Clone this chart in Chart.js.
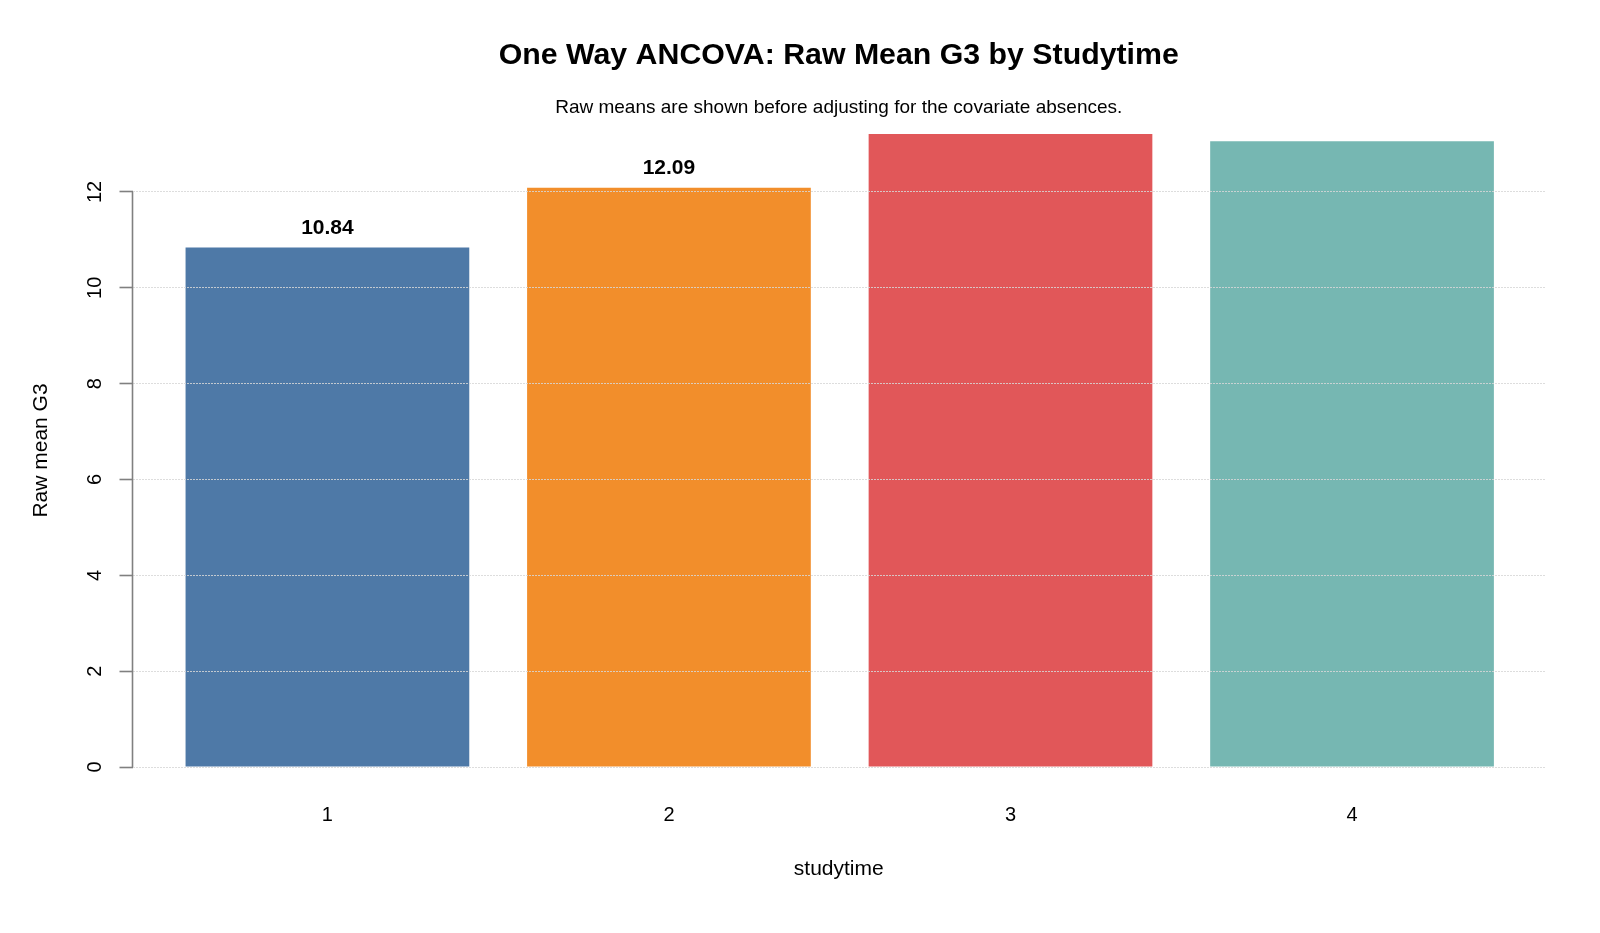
<!DOCTYPE html>
<html>
<head>
<meta charset="utf-8">
<script src="https://cdn.jsdelivr.net/npm/chart.js@4/dist/chart.umd.min.js"></script>
<style>
  html, body { margin: 0; padding: 0; background: #fff; }
  canvas { display: block; }
</style>
</head>
<body>
<canvas id="chart" width="1600" height="933"></canvas>
<script>
var studytime = [1, 2, 3, 4];
var rawMeanG3 = [10.84, 12.09, 13.21, 13.06];
var yTicks = [0, 2, 4, 6, 8, 10, 12];
var barColors = ['#4E79A7', '#F28E2B', '#E15759', '#76B7B2'];
var yMax = 13.21;
var xMin = 0.4293, xMax = 4.565;

var FONT = '"Liberation Sans", Arial, Helvetica, sans-serif';

// title + subtitle centred over the plot region
var titlePlugin = {
  id: 'rTitle',
  afterDraw: function(chart) {
    var ctx = chart.ctx;
    var cx = (chart.chartArea.left + chart.chartArea.right) / 2;
    ctx.save();
    ctx.fillStyle = '#000';
    ctx.textAlign = 'center';
    ctx.textBaseline = 'middle';
    ctx.font = 'bold 30.3px ' + FONT;
    ctx.fillText('One Way ANCOVA: Raw Mean G3 by Studytime', cx, 56);
    ctx.font = '19px ' + FONT;
    ctx.fillText('Raw means are shown before adjusting for the covariate absences.', cx, 108);
    ctx.restore();
  }
};

// value labels above bars, clipped to the plot region like in R
var barLabels = {
  id: 'barLabels',
  afterDatasetsDraw: function(chart) {
    var ctx = chart.ctx;
    var area = chart.chartArea;
    var meta = chart.getDatasetMeta(0);
    ctx.save();
    ctx.beginPath();
    ctx.rect(area.left, area.top, area.right - area.left, area.bottom - area.top);
    ctx.clip();
    ctx.fillStyle = '#000';
    ctx.textAlign = 'center';
    ctx.textBaseline = 'middle';
    ctx.font = 'bold 21px ' + FONT;
    meta.data.forEach(function(bar, i) {
      ctx.fillText(rawMeanG3[i].toFixed(2), bar.x, bar.y - 19.5);
    });
    ctx.restore();
  }
};

// y axis line (0..12 only) and rotated tick labels
var yAxisDecor = {
  id: 'yAxisDecor',
  afterDraw: function(chart) {
    var ctx = chart.ctx;
    var y = chart.scales.y;
    var x0 = chart.chartArea.left;
    ctx.save();
    ctx.strokeStyle = '#808080';
    ctx.lineWidth = 1.6;
    ctx.beginPath();
    ctx.moveTo(x0, y.getPixelForValue(yTicks[0]));
    ctx.lineTo(x0, y.getPixelForValue(yTicks[yTicks.length - 1]));
    ctx.stroke();
    ctx.fillStyle = '#000';
    ctx.font = '20px ' + FONT;
    ctx.textAlign = 'center';
    ctx.textBaseline = 'middle';
    yTicks.forEach(function(v) {
      ctx.save();
      ctx.translate(95, y.getPixelForValue(v));
      ctx.rotate(-Math.PI / 2);
      ctx.fillText(String(v), 0, 0);
      ctx.restore();
    });
    ctx.restore();
  }
};

new Chart(document.getElementById('chart'), {
  type: 'bar',
  data: {
    datasets: [{
      data: studytime.map(function(s, i) { return {x: s, y: rawMeanG3[i]}; }),
      backgroundColor: barColors,
      borderWidth: 0,
      categoryPercentage: 1,
      barPercentage: 0.8307
    }]
  },
  options: {
    responsive: false,
    animation: false,
    devicePixelRatio: 1,
    layout: { padding: { top: 134, right: 55, bottom: 0, left: 0 } },
    plugins: {
      legend: { display: false },
      title: { display: false },
      tooltip: { enabled: false }
    },
    scales: {
      x: {
        type: 'linear',
        min: xMin,
        max: xMax,
        offset: false,
        afterFit: function(scale) { scale.height = 166; },
        afterBuildTicks: function(scale) {
          scale.ticks = studytime.map(function(v) { return {value: v}; });
        },
        grid: { display: false, drawTicks: false, offset: false },
        border: { display: false },
        ticks: {
          padding: 36,
          color: '#000',
          font: { family: FONT, size: 20 },
          callback: function(v) { return String(v); }
        },
        title: {
          display: true,
          text: 'studytime',
          color: '#000',
          font: { family: FONT, size: 21 },
          padding: { top: 0, bottom: 51.5 }
        }
      },
      y: {
        min: 0,
        max: yMax,
        afterFit: function(scale) { scale.width = 132.5; },
        afterBuildTicks: function(scale) {
          scale.ticks = yTicks.map(function(v) { return {value: v}; });
        },
        grid: {
          z: 1,
          color: 'rgba(215,215,215,0.85)',
          lineWidth: 1,
          borderDash: [2, 1],
          tickLength: 13,
          tickColor: '#808080',
          tickWidth: 1.6,
          tickBorderDash: []
        },
        border: { display: false, dash: [2, 1] },
        ticks: { display: false },
        title: {
          display: true,
          text: 'Raw mean G3',
          color: '#000',
          font: { family: FONT, size: 21 },
          padding: { top: 28.4, bottom: 0 }
        }
      }
    }
  },
  plugins: [titlePlugin, barLabels, yAxisDecor]
});
</script>
</body>
</html>
